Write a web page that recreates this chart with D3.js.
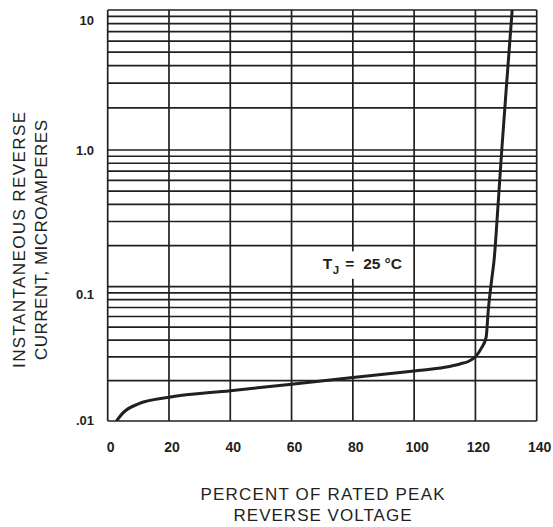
<!DOCTYPE html>
<html><head><meta charset="utf-8">
<script src="https://cdn.jsdelivr.net/npm/d3@7"></script>
<style>body{margin:0;background:#fff}svg{display:block}</style>
</head><body><svg id="c" width="553" height="527"></svg>
<script>
// ---- data ----
const xTickValues = [0, 20, 40, 60, 80, 100, 120, 140];
const xTickLabels = ["0", "20", "40", "60", "80", "100", "120", "140"];
const yTickValues = [0.01, 0.1, 1, 10];
const yTickLabels = [".01", "0.1", "1.0", "10"];
const yGridValues = [0.01, 0.02, 0.03, 0.04, 0.05, 0.06, 0.07, 0.08, 0.09,
                     0.1, 0.2, 0.3, 0.4, 0.5, 0.6, 0.7, 0.8, 0.9,
                     1, 2, 3, 4, 5, 6, 7, 8, 9, 10];
const percentVoltage = [3, 5, 10, 20, 40, 60, 80, 100, 110, 115, 118, 120, 122, 123.5, 124.2, 125.3, 126.1, 127.4, 128.6, 130.2, 132];
const reverseCurrent = [0.0101, 0.0115, 0.0134, 0.0150, 0.0168, 0.0188, 0.0211, 0.0236, 0.0251, 0.0266, 0.0280, 0.0301, 0.0350, 0.042, 0.067, 0.112, 0.157, 0.40, 1.0, 3.0, 10];
const xTitle = ["PERCENT OF RATED PEAK", "REVERSE VOLTAGE"];
const yTitle = ["INSTANTANEOUS REVERSE", "CURRENT, MICROAMPERES"];
const annotationPos = {x: 70.2, y: 0.134};

// ---- layout / style ----
const ink = "#231f20";
const font = "Liberation Sans, Arial, sans-serif";
const left = 107.7, right = 536.7;
const svg = d3.select("#c");
svg.append("rect").attr("width", 553).attr("height", 527).attr("fill", "#fff");

const x = d3.scaleLinear().domain([0, 140]).range([left, right]);
const y = d3.scaleLog().domain([0.01, 0.1, 1, 10]).range([421, 286.7, 150, 10]);

// grid
const g = svg.append("g");
g.selectAll("line.h").data(yGridValues).join("line")
  .attr("x1", left).attr("x2", right)
  .attr("y1", d => y(d)).attr("y2", d => y(d))
  .attr("stroke", ink).attr("stroke-width", 1.7);
g.selectAll("line.v").data(xTickValues).join("line")
  .attr("x1", d => x(d)).attr("x2", d => x(d))
  .attr("y1", y(10)).attr("y2", y(0.01))
  .attr("stroke", ink).attr("stroke-width", 1.7);

// curve
svg.append("clipPath").attr("id", "clip").append("rect")
  .attr("x", left).attr("y", y(10)).attr("width", right - left).attr("height", y(0.01) - y(10));
const pts = percentVoltage.map((v, i) => [v, reverseCurrent[i]]);
svg.append("path").datum(pts)
  .attr("clip-path", "url(#clip)")
  .attr("fill", "none").attr("stroke", ink).attr("stroke-width", 3)
  .attr("stroke-linecap", "round")
  .attr("d", d3.line().x(d => x(d[0])).y(d => y(d[1])).curve(d3.curveMonotoneX));

// annotation with white box
const ann = svg.append("g");
const annText = ann.append("text")
  .attr("x", x(annotationPos.x)).attr("y", y(annotationPos.y))
  .attr("font-family", font)
  .attr("font-weight", "bold").attr("font-size", 15.5).attr("fill", ink);
annText.append("tspan").text("T");
annText.append("tspan").attr("font-size", 11.5).attr("dx", 0.5).attr("dy", 4.5).text("J");
annText.append("tspan").attr("dx", 6).attr("dy", -4.5).text("=");
annText.append("tspan").attr("dx", 9).text("25");
annText.append("tspan").attr("dx", 4).text("°C");
const bb = annText.node().getBBox();
ann.insert("rect", "text")
  .attr("x", bb.x - 5).attr("y", bb.y - 4)
  .attr("width", bb.width + 10).attr("height", bb.height + 7)
  .attr("fill", "#fff");

// y tick labels
const yNudge = {"10": 10, "1.0": 0, "0.1": 8, ".01": -1};
svg.selectAll("text.yt").data(yTickValues).join("text")
  .attr("x", 94).attr("y", (d, i) => y(d) + yNudge[yTickLabels[i]])
  .attr("dy", "0.35em").attr("text-anchor", "end")
  .attr("font-family", font)
  .attr("font-weight", "bold").attr("font-size", 13).attr("fill", ink)
  .text((d, i) => yTickLabels[i]);

// x tick labels
svg.selectAll("text.xt").data(xTickValues).join("text")
  .attr("x", d => x(d) + 3).attr("y", 451.5)
  .attr("text-anchor", "middle")
  .attr("font-family", font)
  .attr("font-weight", "bold").attr("font-size", 14).attr("fill", ink)
  .text((d, i) => xTickLabels[i]);

// x title
const xTitleLen = [244, 178];
svg.selectAll("text.xtitle").data(xTitle).join("text")
  .attr("x", 322.5).attr("y", (d, i) => 499.5 + i * 21.5)
  .attr("text-anchor", "middle")
  .attr("textLength", (d, i) => xTitleLen[i]).attr("lengthAdjust", "spacing")
  .attr("font-family", font)
  .attr("font-size", 17).attr("fill", ink)
  .text(d => d);

// y title
const yTitleLen = [256, 240];
svg.selectAll("text.ytitle").data(yTitle).join("text")
  .attr("transform", (d, i) => `translate(${25 + i * 21.5},240) rotate(-90)`)
  .attr("text-anchor", "middle")
  .attr("textLength", (d, i) => yTitleLen[i]).attr("lengthAdjust", "spacing")
  .attr("font-family", font)
  .attr("font-size", 17).attr("fill", ink)
  .text(d => d);
</script></body></html>
